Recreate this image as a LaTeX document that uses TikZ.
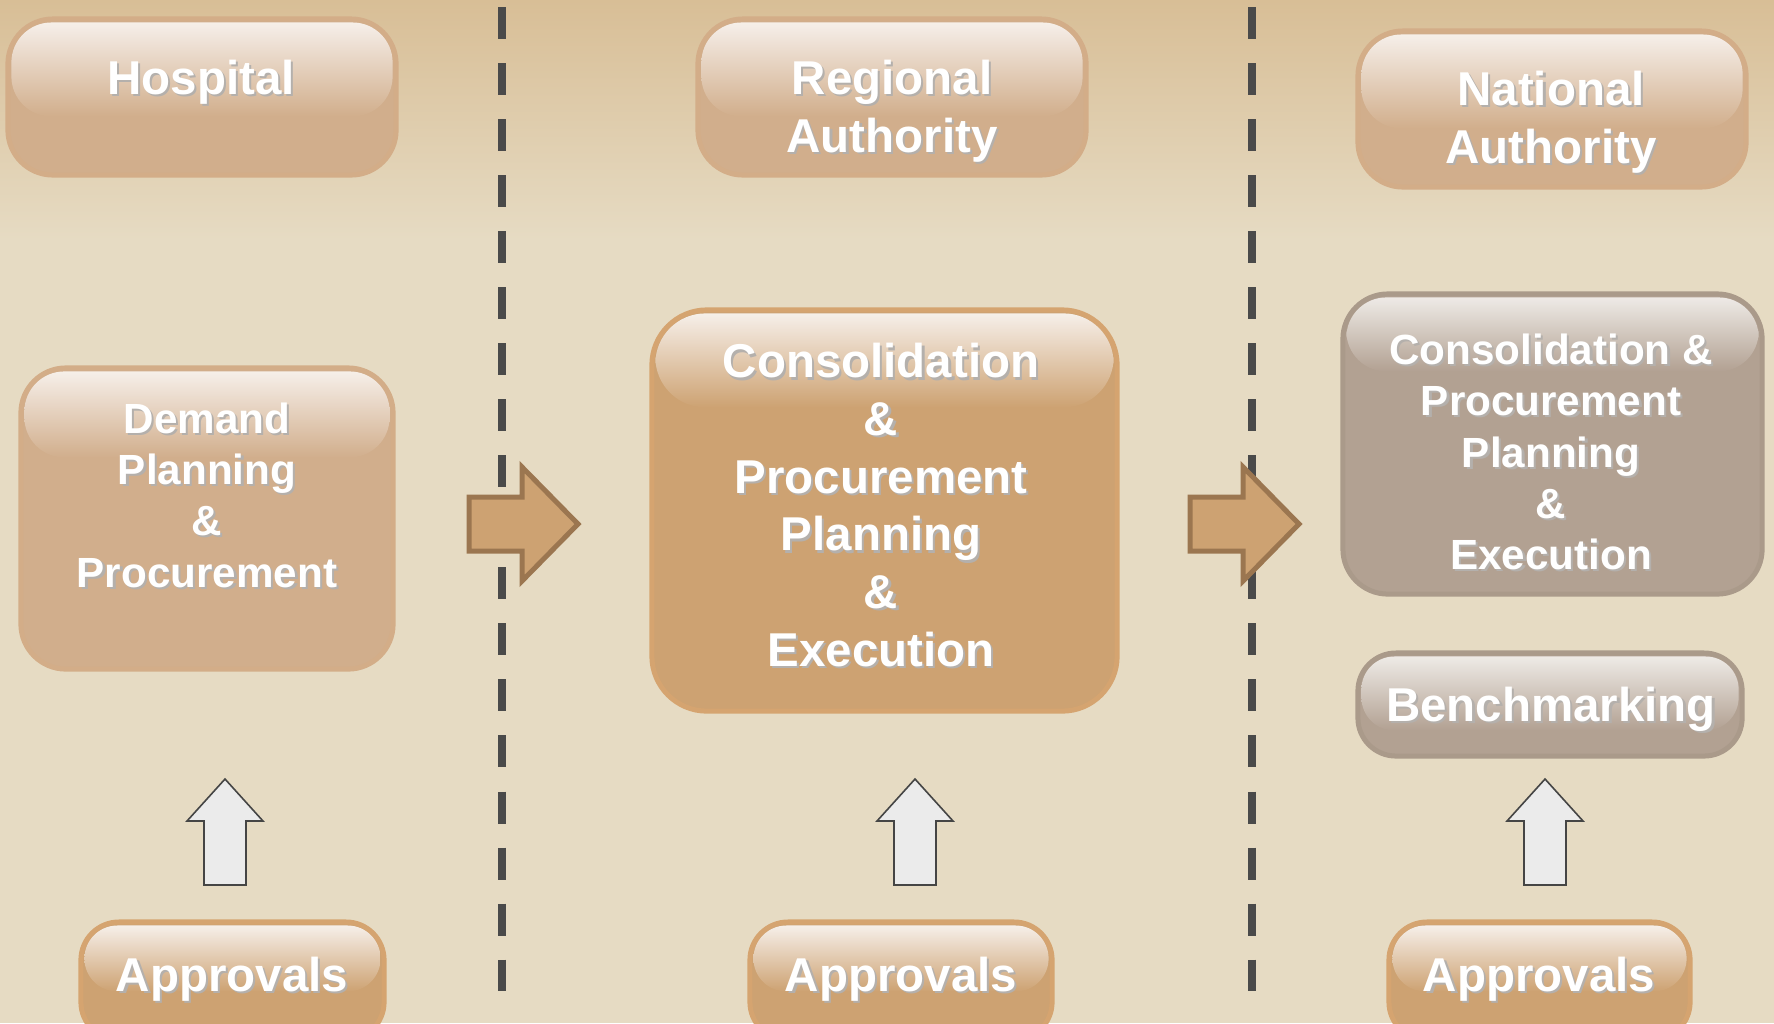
\documentclass[tikz,border=0pt]{standalone}
\usepackage{fontspec}
\setmainfont{Liberation Sans}
\definecolor{bgtop}{HTML}{D8BE96}
\definecolor{bgmid}{HTML}{E6DBC3}
\definecolor{tanbase}{HTML}{D1AE8C}
\definecolor{tanring}{HTML}{D3AD88}
\definecolor{conbase}{HTML}{CDA272}
\definecolor{conring}{HTML}{D5A470}
\definecolor{grybase}{HTML}{B2A192}
\definecolor{gryring}{HTML}{AA9A8A}
\definecolor{glossL}{HTML}{F6EFE9}
\definecolor{glossG}{HTML}{EEEAE6}
\definecolor{shd}{HTML}{B4B0AC}
\definecolor{dashc}{HTML}{4A4A4A}
\definecolor{rafill}{HTML}{CDA272}
\definecolor{raline}{HTML}{9B7650}
\definecolor{uafill}{HTML}{EBEBEB}
\definecolor{ualine}{HTML}{454545}
\tikzset{
  gbox/.style={rectangle, inner sep=0pt, line width=0.05cm},
  txt/.style={text=white, align=center, inner sep=0pt,
    font=\bfseries\fontsize{13.5}{16.4}\selectfont},
  txtsm/.style={font=\bfseries\fontsize{12}{14.6}\selectfont},
  dashline/.style={draw=dashc, line width=0.08cm, dash pattern=on 0.32cm off 0.24cm},
  rarrow/.style={draw=raline, fill=rafill, line width=0.05cm, line join=miter},
  uarrow/.style={draw=ualine, fill=uafill, line width=0.016cm, line join=miter}
}
% name, height of gloss, base colour, light colour, radius
\newcommand\glossy[5]{%
  \shade[top color=#4, middle color=#4!82!#3, bottom color=#3, rounded corners=#5]
    ([shift={(6,6)}]#1.north west) rectangle ([shift={(-6,#2)}]#1.north east);}
% name, position, extra style, text
\newcommand\stext[4]{%
  \node[txt, #3, text=shd] at ([shift={(2.2,2.2)}]#2) {#4};
  \node[txt, #3] (#1) at (#2) {#4};}
\begin{document}
\begin{tikzpicture}[x=0.01cm,y=-0.01cm]
\useasboundingbox (0,0) rectangle (1774,1023);
\clip (0,0) rectangle (1774,1023);
% background
\shade[top color=bgtop, bottom color=bgmid] (0,0) rectangle (1774,240);
\fill[bgmid] (0,239) rectangle (1774,1023);

% dashed separators
\coordinate (d1a) at (502,7);   \coordinate (d1b) at (502,991);
\coordinate (d2a) at (1252,7);  \coordinate (d2b) at (1252,991);
\draw[dashline] (d1a) -- (d1b);
\draw[dashline] (d2a) -- (d2b);

% header boxes
\node[gbox, fill=tanbase, draw=tanring, rounded corners=0.45cm, minimum width=3.88cm, minimum height=1.56cm] (hosp) at (202,97) {};
\glossy{hosp}{100}{tanbase}{glossL}{0.40cm}
\node[gbox, fill=tanbase, draw=tanring, rounded corners=0.45cm, minimum width=3.88cm, minimum height=1.56cm] (reg) at (892,97) {};
\glossy{reg}{100}{tanbase}{glossL}{0.40cm}
\node[gbox, fill=tanbase, draw=tanring, rounded corners=0.45cm, minimum width=3.88cm, minimum height=1.56cm] (nat) at (1552,109) {};
\glossy{nat}{100}{tanbase}{glossL}{0.40cm}

% middle boxes
\node[gbox, fill=tanbase, draw=tanring, rounded corners=0.45cm, minimum width=3.72cm, minimum height=3.01cm] (dem) at (207,518.5) {};
\glossy{dem}{92}{tanbase}{glossL}{0.40cm}
\node[gbox, fill=conbase, draw=conring, rounded corners=0.55cm, minimum width=4.65cm, minimum height=4.01cm] (cons) at (884.5,510.5) {};
\glossy{cons}{100}{conbase}{glossL}{0.50cm}
\node[gbox, fill=grybase, draw=gryring, rounded corners=0.45cm, minimum width=4.19cm, minimum height=3.00cm] (ncons) at (1552.5,444) {};
\glossy{ncons}{80}{grybase}{glossG}{0.40cm}
\node[gbox, fill=grybase, draw=gryring, rounded corners=0.38cm, minimum width=3.84cm, minimum height=1.03cm] (bench) at (1550,704.5) {};
\glossy{bench}{80}{grybase}{glossG}{0.33cm}

% approvals boxes
\node[gbox, fill=conbase, draw=conring, rounded corners=0.38cm, minimum width=3.03cm, minimum height=1.18cm] (ap1) at (232.5,981) {};
\glossy{ap1}{72}{conbase}{glossL}{0.33cm}
\node[gbox, fill=conbase, draw=conring, rounded corners=0.38cm, minimum width=3.02cm, minimum height=1.18cm] (ap2) at (901,981) {};
\glossy{ap2}{72}{conbase}{glossL}{0.33cm}
\node[gbox, fill=conbase, draw=conring, rounded corners=0.38cm, minimum width=3.01cm, minimum height=1.18cm] (ap3) at (1539.5,981) {};
\glossy{ap3}{72}{conbase}{glossL}{0.33cm}

% texts
\stext{hospT}{201,82}{}{Hospital}
\stext{regT}{892,111}{}{Regional\\Authority}
\stext{natT}{1551,122}{}{National\\Authority}
\stext{demT}{207,495}{txtsm}{Demand\\Planning\\\&\\Procurement}
\stext{consT}{881,505}{}{Consolidation\\\&\\Procurement\\Planning\\\&\\Execution}
\stext{nconsT}{1551,452}{txtsm}{Consolidation \&\\Procurement\\Planning\\\&\\Execution}
\stext{benchT}{1551,709}{}{Benchmarking}
\stext{ap1T}{232,979}{}{Approvals}
\stext{ap2T}{901,979}{}{Approvals}
\stext{ap3T}{1539,979}{}{Approvals}

% right block arrows (between columns)
\coordinate (ra1) at (469,524);
\coordinate (ra2) at (1190,524);
\foreach \c in {ra1,ra2}
  \draw[rarrow] (\c) ++(0,-27) -- ++(53,0) -- ++(0,-30) -- ++(56,57) -- ++(-56,57) -- ++(0,-30) -- ++(-53,0) -- cycle;

% up block arrows (from approvals)
\coordinate (ua1) at (225,779);
\coordinate (ua2) at (915,779);
\coordinate (ua3) at (1545,779);
\foreach \c in {ua1,ua2,ua3}
  \draw[uarrow] (\c) -- ++(38,42) -- ++(-17,0) -- ++(0,64) -- ++(-42,0) -- ++(0,-64) -- ++(-17,0) -- cycle;
\end{tikzpicture}
\end{document}
